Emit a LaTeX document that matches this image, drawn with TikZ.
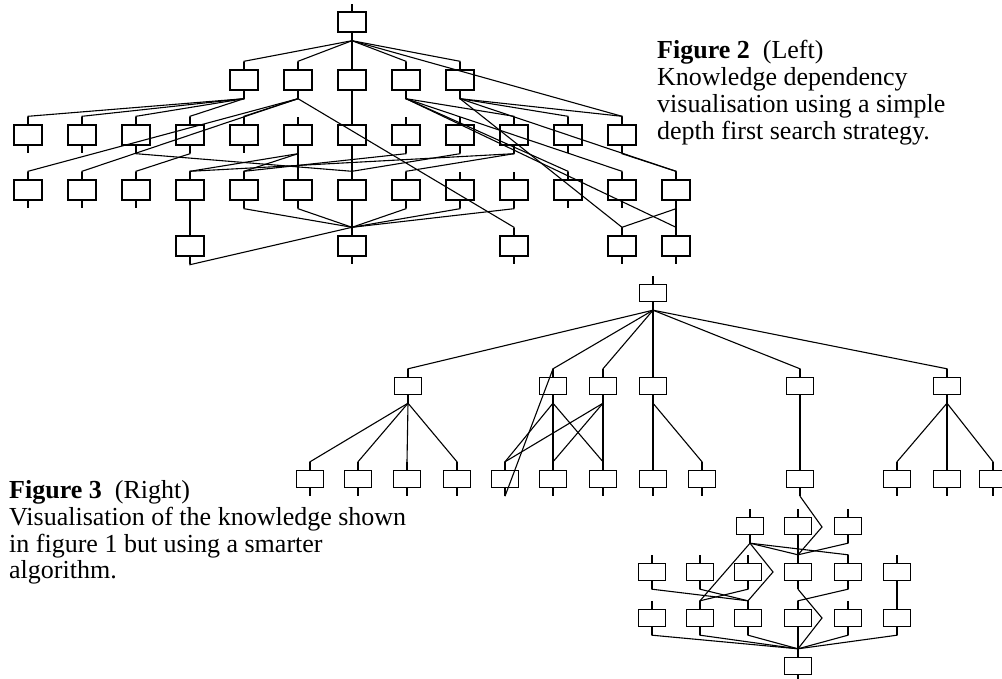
\documentclass[tikz,border=0pt]{standalone}
\usepackage{fontspec}
\setmainfont{Liberation Serif}
\usetikzlibrary{calc}
\newcommand\lk[2]{\draw[ln] (#1.south) -- ([yshift=-8pt]#1.south) -- ([yshift=8pt]#2.north) -- (#2.north);}
\begin{document}
\begin{tikzpicture}[x=1pt,y=-1pt,
  bx/.style={draw,line width=1.4pt,minimum width=28pt,minimum height=20pt,inner sep=0pt},
  sx/.style={draw,line width=1.4pt,minimum width=27pt,minimum height=17pt,inner sep=0pt},
  ln/.style={line width=1.1pt},
  lbl/.style={font=\fontsize{26}{27}\selectfont,inner sep=0pt,anchor=base west}]
\useasboundingbox (0,0) rectangle (1002,679);
% ---------- Figure 2 ----------
\node[bx] (r) at (352,22) {};
\foreach \xx [count=\i] in {244,298,352,406,460} \node[bx] (a\i) at (\xx,80) {};
\foreach \xx [count=\i] in {28,82,136,190,244,298,352,406,460,514,568,622} \node[bx] (b\i) at (\xx,135) {};
\foreach \xx [count=\i] in {28,82,136,190,244,298,352,406,460,514,568,622,676} \node[bx] (c\i) at (\xx,190) {};
\foreach \xx [count=\i] in {190,352,514,622,676} \node[bx] (d\i) at (\xx,246) {};
\foreach \nm in {r,a1,a2,a3,a4,a5,b1,b2,b3,b4,b5,b6,b7,b8,b9,b10,b11,b12,c1,c2,c3,c4,c5,c6,c7,c8,c9,c10,c11,c12,c13,d1,d2,d3,d4,d5}
  \draw[ln] (\nm.north) -- ([yshift=7pt]\nm.north) (\nm.south) -- ([yshift=-7pt]\nm.south);
\lk{r}{a1}\lk{r}{a2}\lk{r}{a3}\lk{r}{a4}\lk{r}{a5}\lk{r}{b12}
\lk{a1}{b1}\lk{a1}{b2}\lk{a1}{b3}\lk{a1}{b4}
\lk{a2}{c1}\lk{a2}{c2}\lk{a2}{b5}\lk{a2}{d3}
\lk{a3}{b7}
\lk{a4}{b10}\lk{a4}{c11}\lk{a4}{c12}\lk{a4}{d5}
\lk{a5}{b12}\lk{a5}{c13}\lk{a5}{b11}\lk{a5}{d4}
\lk{b3}{c7}\lk{b4}{c3}\lk{b6}{c4}\lk{b6}{c5}\lk{b6}{c6}\lk{b7}{c7}
\lk{b8}{c5}\lk{b9}{c7}\lk{b10}{c8}\lk{b10}{c4}\lk{b12}{c13}
\lk{c4}{d1}
\lk{c5}{d2}\lk{c6}{d2}\lk{c7}{d2}\lk{c8}{d2}\lk{c9}{d2}\lk{c10}{d2}
\lk{c13}{d4}\lk{c13}{d5}
\lk{d1}{d2}
% ---------- Figure 3 ----------
\node[sx] (R) at (653,293) {};
\foreach \xx [count=\i] in {408,553,603,653,800,947} \node[sx] (p\i) at (\xx,386) {};
\foreach \xx [count=\i] in {310,358,407,457,505,553,603,653,702,800,897,947,993} \node[sx] (q\i) at (\xx,479) {};
\foreach \xx [count=\i] in {750,798,848} \node[sx] (s\i) at (\xx,526) {};
\foreach \xx [count=\i] in {652,700,748,798,848,897} \node[sx] (t\i) at (\xx,572) {};
\foreach \xx [count=\i] in {652,700,748,798,848,897} \node[sx] (u\i) at (\xx,618) {};
\node[sx] (v) at (798,666) {};
\foreach \nm in {R,p1,p2,p3,p4,p5,p6,q1,q2,q3,q4,q5,q6,q7,q8,q9,q10,q11,q12,q13,s1,s2,s3,t1,t2,t3,t4,t5,t6,u1,u2,u3,u4,u5,u6,v}
  \draw[ln] (\nm.north) -- ([yshift=8pt]\nm.north) (\nm.south) -- ([yshift=-8pt]\nm.south);
\foreach \i in {1,...,6} {\lk{R}{p\i}}
\lk{p1}{q1}\lk{p1}{q2}\lk{p1}{q3}\lk{p1}{q4}
\lk{p2}{q5}\lk{p2}{q6}\lk{p2}{q7}
\lk{p3}{q5}\lk{p3}{q6}\lk{p3}{q7}
\lk{p4}{q8}\lk{p4}{q9}
\lk{p5}{q10}
\lk{p6}{q11}\lk{p6}{q12}\lk{p6}{q13}
\draw[ln] ([yshift=-8pt]q5.south) -- ([yshift=8pt]p2.north);
\coordinate (k1) at (822,527);
\coordinate (k2) at (773,572);
\coordinate (k3) at (822,618);
\draw[ln] ([yshift=-8pt]q10.south) -- (k1) -- ([yshift=8pt]t4.north);
\lk{s2}{t4}\lk{s3}{t4}\lk{s1}{t4}\lk{s1}{t5}\lk{s1}{u2}
\draw[ln] ([yshift=-8pt]s1.south) -- (k2) -- ([yshift=8pt]u3.north);
\lk{t1}{u3}\lk{t2}{u3}\lk{t3}{u2}\lk{t5}{u4}\lk{t6}{u6}
\draw[ln] ([yshift=-8pt]t4.south) -- (k3) -- ([yshift=8pt]v.north);
\foreach \i in {1,...,6} {\lk{u\i}{v}}
% ---------- Captions ----------
\node[lbl] (f2a) at (657,59) {\textbf{Figure 2}\ \ (Left)};
\node[lbl] (f2b) at (657,86) {Knowledge dependency};
\node[lbl] (f2c) at (657,113) {visualisation using a simple};
\node[lbl] (f2d) at (657,140) {depth first search strategy.};
\node[lbl] (f3a) at (9,498) {\textbf{Figure 3}\ \ (Right)};
\node[lbl] (f3b) at (9,525) {Visualisation of the knowledge shown};
\node[lbl] (f3c) at (9,552) {in figure 1 but using a smarter};
\node[lbl] (f3d) at (9,578) {algorithm.};
\end{tikzpicture}
\end{document}
